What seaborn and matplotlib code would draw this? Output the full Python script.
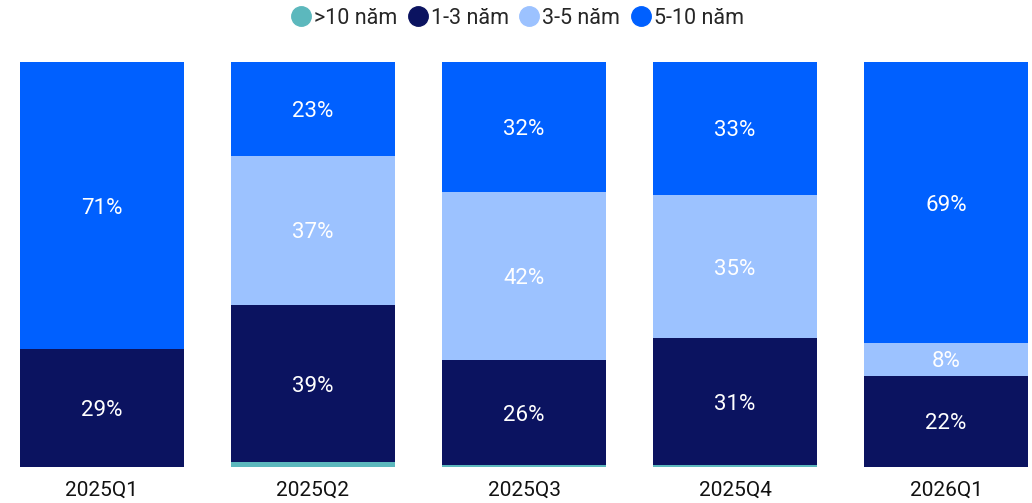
import numpy as np
import pandas as pd
import matplotlib
matplotlib.use("Agg")
import matplotlib.pyplot as plt
from matplotlib.lines import Line2D
import seaborn as sns

# Tenor mix per quarter (% of total), stacked bottom to top
quarters = ["2025Q1", "2025Q2", "2025Q3", "2025Q4", "2026Q1"]
over_10 = [0.0, 1.2, 0.4, 0.4, 0.0]
y1_3 = [29.1, 38.8, 25.9, 31.4, 22.5]
y3_5 = [0.0, 36.8, 41.6, 35.4, 8.1]
y5_10 = [70.9, 23.2, 32.1, 32.8, 69.4]

series_names = [">10 năm", "1-3 năm", "3-5 năm", "5-10 năm"]
series_values = [over_10, y1_3, y3_5, y5_10]
series_colors = ["#5cb8bd", "#0b1360", "#9cc2ff", "#0060ff"]

sns.set_theme(style="white")
plt.rcParams["font.family"] = ["Roboto", "DejaVu Sans"]

fig = plt.figure(figsize=(10.32, 5.03), dpi=100)
ax = fig.add_axes([20 / 1032, 1 - 467 / 503, 1008 / 1032, 405 / 503])

bar_w = 0.777
bottom = np.zeros(len(quarters))
for name, vals, col in zip(series_names, series_values, series_colors):
    df = pd.DataFrame({"quarter": quarters, "value": vals})
    sns.barplot(data=df, x="quarter", y="value", color=col, width=bar_w,
                bottom=bottom, ax=ax, saturation=1, linewidth=0, errorbar=None)
    for i, v in enumerate(vals):
        if v >= 5:
            ax.text(i, bottom[i] + v / 2, f"{round(v):d}%", ha="center",
                    va="center_baseline", color="white", fontsize=16)
    bottom = bottom + np.array(vals)

ax.set_xlim(-bar_w / 2, len(quarters) - 1 + bar_w / 2)
ax.set_ylim(0, 100)
ax.set_xlabel("")
ax.set_ylabel("")
ax.set_yticks([])
ax.tick_params(axis="x", length=0, labelsize=15, colors="#111111", pad=10)
for s in ax.spines.values():
    s.set_visible(False)

handles = [Line2D([0], [0], marker="o", linestyle="", markersize=14,
                  markerfacecolor=c, markeredgecolor=c) for c in series_colors]
fig.legend(handles, series_names, loc="center", bbox_to_anchor=(0.5, 1 - 18 / 503),
           ncol=4, frameon=False, fontsize=15.5, handletextpad=0.0,
           columnspacing=0.35, handlelength=1.2)

fig.savefig("out.png", dpi=100)
